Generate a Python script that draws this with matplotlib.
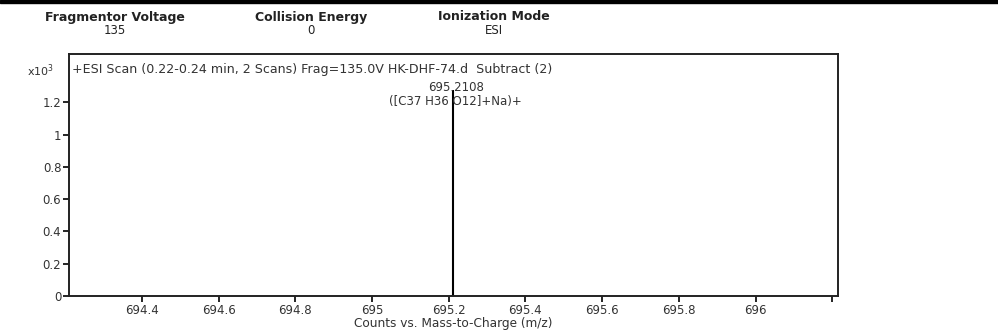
import matplotlib.pyplot as plt
from matplotlib.patches import Rectangle
from matplotlib.ticker import FuncFormatter

# header info
header_names = ["Fragmentor Voltage", "Collision Energy", "Ionization Mode"]
header_values = ["135", "0", "ESI"]
header_x = [115, 311, 494]  # pixel centres

# spectrum (counts x10^3)
peak_mz = [695.2108]
peak_int = [1.275]
peak_labels = ["695.2108\n([C37 H36 O12]+Na)+"]

xticks = [694.4, 694.6, 694.8, 695.0, 695.2, 695.4, 695.6, 695.8, 696.0, 696.2]
yticks = [0, 0.2, 0.4, 0.6, 0.8, 1.0, 1.2]
scan_title = "+ESI Scan (0.22-0.24 min, 2 Scans) Frag=135.0V HK-DHF-74.d  Subtract (2)"

W, H = 998, 333
txt = "#333333"
fig = plt.figure(figsize=(W / 100, H / 100), dpi=100)
fig.patches.append(Rectangle((0, 1 - 3 / H), 1, 3 / H, transform=fig.transFigure,
                             color="black", zorder=0))

for name, val, px in zip(header_names, header_values, header_x):
    fig.text(px / W, 1 - 17 / H, name, ha="center", va="center",
             fontsize=9, fontweight="bold", color="#222222")
    fig.text(px / W, 1 - 31 / H, val, ha="center", va="center",
             fontsize=8.5, color="#222222")

ax = fig.add_axes([69 / W, 1 - 296 / H, (838 - 69) / W, (296 - 54) / H])
ax.vlines(peak_mz, 0, peak_int, color="black", lw=1.5)
for mz, it, lab in zip(peak_mz, peak_int, peak_labels):
    ax.annotate(lab, (mz, it), xytext=(2, -3), textcoords="offset points",
                ha="center", va="center", fontsize=8.5, color=txt,
                linespacing=1.15)

ax.set_xlim(694.21, 696.215)
ax.set_ylim(0, 1.5)
ax.set_xticks(xticks)
ax.set_xticklabels(["%g" % t for t in xticks[:-1]] + [""])
ax.set_yticks(yticks)
ax.yaxis.set_major_formatter(FuncFormatter(lambda v, p: "%g" % v))
ax.tick_params(axis="both", direction="out", length=4, width=1.2,
               labelsize=8.5, labelcolor=txt, pad=1.5)
for s in ax.spines.values():
    s.set_linewidth(1.4)
    s.set_color("#222222")

ax.text(0.004, 0.938, scan_title, transform=ax.transAxes, fontsize=9.1,
        color=txt, va="center", ha="left")
fig.text(27 / W, 1 - 71 / H, "x10$^{3}$", fontsize=8, color=txt,
         va="center", ha="left")
ax.set_xlabel("Counts vs. Mass-to-Charge (m/z)", fontsize=8.7, color=txt,
              labelpad=0)

fig.savefig("out.png", dpi=100)
